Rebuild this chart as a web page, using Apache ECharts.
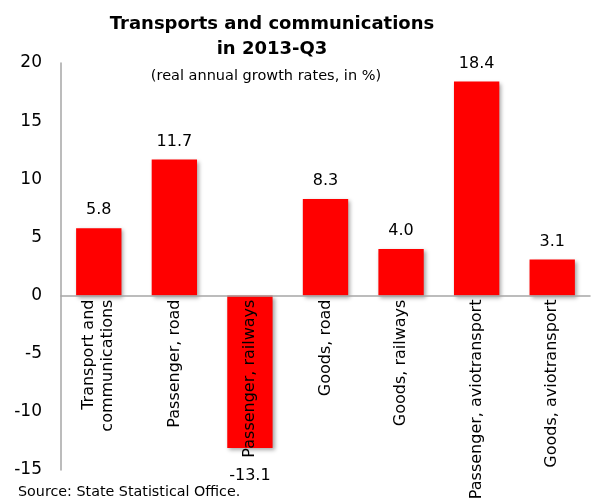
<!DOCTYPE html>
<html>
<head>
<meta charset="utf-8">
<script src="https://cdn.jsdelivr.net/npm/echarts@6/dist/echarts.min.js"></script>
<style>
  html, body { margin: 0; padding: 0; background: #fff; }
  #chart { width: 592px; height: 502px; }
</style>
</head>
<body>
<div id="chart"></div>
<script>
// Categories and real annual growth rates (%), 2013-Q3
var categories = [
  'Transport and\ncommunications',
  'Passenger, road',
  'Passenger, railways',
  'Goods, road',
  'Goods, railways',
  'Passenger, aviotransport',
  'Goods, aviotransport'
];
var growthRates = [5.8, 11.7, -13.1, 8.3, 4.0, 18.4, 3.1];
var yTicks = [-15, -10, -5, 0, 5, 10, 15, 20];

var FONT = 'DejaVu Sans';
var W = 592, H = 502;
var gridBox = { left: 61, right: 2, top: 63, bottom: 32 };
var yMin = yTicks[0], yMax = yTicks[yTicks.length - 1];

// The category axis sits on the zero line: shift it up from the grid bottom.
var plotH = H - gridBox.top - gridBox.bottom;
var zeroOffset = -plotH * (0 - yMin) / (yMax - yMin);

// Negative bars carry their value label a little further from the bar end.
var barData = growthRates.map(function (v) {
  return v < 0 ? { value: v, label: { distance: 20 } } : { value: v };
});

var chart = echarts.init(document.getElementById('chart'), null, { renderer: 'canvas' });

chart.setOption({
  backgroundColor: '#ffffff',
  animation: false,
  title: [
    {
      text: 'Transports and communications\nin 2013-Q3',
      left: 267, top: 7, textAlign: 'center',
      textStyle: { fontFamily: FONT, fontWeight: 'bold', fontSize: 18, lineHeight: 25, color: '#000' }
    },
    {
      text: '(real annual growth rates, in %)',
      left: 261, top: 64, textAlign: 'center',
      textStyle: { fontFamily: FONT, fontWeight: 'normal', fontSize: 14.5, color: '#000' }
    },
    {
      text: 'Source: State Statistical Office.',
      left: 13, top: 480,
      textStyle: { fontFamily: FONT, fontWeight: 'normal', fontSize: 14.3, color: '#000' }
    }
  ],
  grid: {
    left: gridBox.left, right: gridBox.right, top: gridBox.top, bottom: gridBox.bottom,
    containLabel: false, outerBoundsMode: 'none'
  },
  xAxis: {
    type: 'category',
    data: categories,
    z: 10,
    position: 'bottom',
    offset: zeroOffset,
    axisLine: { onZero: false, lineStyle: { color: '#a6a6a6', width: 1.5 } },
    axisTick: { show: false },
    axisLabel: {
      interval: 0, rotate: 90, margin: 4,
      fontFamily: FONT, fontSize: 16, lineHeight: 19, color: '#000'
    },
    splitLine: { show: false }
  },
  yAxis: {
    type: 'value',
    min: yMin, max: yMax, interval: 5,
    axisLine: { show: true, onZero: false, lineStyle: { color: '#a6a6a6', width: 1.5 } },
    axisTick: { show: false },
    splitLine: { show: false },
    axisLabel: { margin: 19, fontFamily: FONT, fontSize: 17, color: '#000' }
  },
  series: [{
    type: 'bar',
    data: barData,
    barCategoryGap: '40%',
    itemStyle: {
      color: '#ff0000',
      shadowBlur: 4, shadowColor: 'rgba(0,0,0,0.35)', shadowOffsetX: 2, shadowOffsetY: 2
    },
    label: {
      show: true,
      position: 'outside',
      distance: 10,
      formatter: function (p) { return p.value.toFixed(1); },
      fontFamily: FONT, fontSize: 16, color: '#000'
    }
  }]
});
</script>
</body>
</html>
